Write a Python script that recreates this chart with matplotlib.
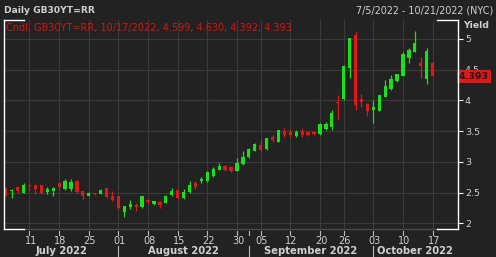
import matplotlib
matplotlib.use('Agg')
import matplotlib.pyplot as plt
import numpy as np
import pandas as pd
from matplotlib.lines import Line2D
from matplotlib.transforms import blended_transform_factory

# ---------------- data ----------------
opens = [2.57, 2.52, 2.585, 2.50, 2.62, 2.62, 2.62, 2.51, 2.52, 2.65,
         2.56, 2.55, 2.69, 2.52, 2.45, 2.49, 2.48, 2.58, 2.44, 2.44,
         2.19, 2.26, 2.30, 2.26, 2.38, 2.31, 2.35, 2.335, 2.455, 2.54,
         2.41, 2.51, 2.66, 2.68, 2.68, 2.77, 2.87, 2.93, 2.92, 2.855,
         2.96, 3.07, 3.175, 3.27, 3.20, 3.41, 3.33, 3.50, 3.49, 3.42,
         3.50, 3.48, 3.49, 3.45, 3.53, 3.57, 3.97, 4.02, 4.53, 5.06,
         4.02, 3.94, 3.84, 3.83, 4.06, 4.18, 4.31, 4.40, 4.69, 4.79,
         4.61, 4.35, 4.599]
highs = [2.58, 2.55, 2.60, 2.66, 2.62, 2.63, 2.63, 2.595, 2.59, 2.66,
         2.725, 2.725, 2.70, 2.53, 2.51, 2.50, 2.55, 2.59, 2.53, 2.45,
         2.28, 2.38, 2.33, 2.45, 2.40, 2.37, 2.36, 2.46, 2.57, 2.55,
         2.55, 2.69, 2.69, 2.76, 2.85, 2.92, 2.985, 2.95, 2.935, 3.06,
         3.18, 3.22, 3.30, 3.35, 3.39, 3.43, 3.52, 3.545, 3.53, 3.52,
         3.545, 3.50, 3.50, 3.636, 3.65, 3.84, 4.08, 4.57, 5.02, 5.105,
         4.10, 3.96, 4.005, 4.09, 4.33, 4.41, 4.43, 4.78, 4.855, 5.13,
         4.71, 4.845, 4.630]
lows = [2.44, 2.41, 2.50, 2.49, 2.53, 2.47, 2.48, 2.48, 2.44, 2.55,
        2.54, 2.53, 2.49, 2.40, 2.44, 2.46, 2.47, 2.41, 2.37, 2.24,
        2.11, 2.24, 2.195, 2.25, 2.32, 2.30, 2.25, 2.33, 2.45, 2.40,
        2.40, 2.49, 2.56, 2.65, 2.67, 2.76, 2.86, 2.845, 2.84, 2.85,
        2.955, 3.06, 3.17, 3.18, 3.19, 3.33, 3.32, 3.41, 3.41, 3.40,
        3.41, 3.42, 3.44, 3.44, 3.52, 3.52, 3.70, 4.01, 4.37, 3.85,
        3.89, 3.75, 3.635, 3.82, 4.05, 4.17, 4.30, 4.39, 4.60, 4.78,
        4.37, 4.26, 4.392]
closes = [2.45, 2.54, 2.52, 2.63, 2.60, 2.55, 2.49, 2.56, 2.58, 2.595,
          2.69, 2.67, 2.51, 2.45, 2.50, 2.47, 2.54, 2.42, 2.38, 2.25,
          2.275, 2.32, 2.27, 2.44, 2.34, 2.36, 2.30, 2.45, 2.53, 2.41,
          2.51, 2.62, 2.595, 2.725, 2.84, 2.88, 2.93, 2.87, 2.855, 2.985,
          3.08, 3.21, 3.29, 3.19, 3.38, 3.35, 3.51, 3.436, 3.436, 3.49,
          3.436, 3.436, 3.45, 3.61, 3.62, 3.80, 3.96, 4.56, 5.01, 3.92,
          3.97, 3.83, 3.89, 4.08, 4.23, 4.34, 4.42, 4.75, 4.82, 4.93,
          4.55, 4.80, 4.393]

start_date = '2022-07-05'
end_date = '2022-10-21'
holidays = ['2022-08-29', '2022-09-19']
month_labels = ['July 2022', 'August 2022', 'September 2022', 'October 2022']
y_ticks = [2, 2.5, 3, 3.5, 4, 4.5, 5]
y_tick_labels = ['2', '2.5', '3', '3.5', '4', '4.5', '5']
title = 'Daily GB30YT=RR'
date_range_text = '7/5/2022 - 10/21/2022 (NYC)'
legend_text = 'Cndl, GB30YT=RR, 10/17/2022, 4.599, 4.630, 4.392, 4.393'
last_close = 4.393

# ---------------- style ----------------
W, H = 496, 257
BG = '#222222'
GRID = '#3a3a3a'
GREEN = '#19e019'
RED = '#e01818'
TXT = '#cfcfcf'
plt.rcParams['font.family'] = ['DejaVu Sans']

days = pd.bdate_range(start_date, end_date)
days = days[~days.isin(pd.to_datetime(holidays))]
n = len(opens)
x = np.arange(n)

fig = plt.figure(figsize=(W / 100, H / 100), dpi=100, facecolor=BG)
L, R, T, B = 4, 457.5, 20, 229
ax = fig.add_axes([L / W, 1 - B / H, (R - L) / W, (B - T) / H])
ax.set_facecolor(BG)
ax.set_xlim(-0.3, 76.2)
ax.set_ylim(1.907, 5.306)
for s in ax.spines.values():
    s.set_visible(False)

# week starts and month starts
weeks = days.isocalendar().week.values
week_pos = [i for i in range(1, len(days)) if weeks[i] != weeks[i - 1]]
month_pos = [i for i in range(1, len(days)) if days[i].month != days[i - 1].month]

ax.set_xticks(week_pos)
ax.set_yticks(y_ticks)
ax.grid(True, color=GRID, lw=0.8)
ax.set_axisbelow(True)
ax.tick_params(axis='x', length=0, labelbottom=False)
ax.yaxis.tick_right()
ax.tick_params(axis='y', length=3.3, width=0.8, color='white', pad=2,
               labelcolor=TXT, labelsize=6.8)
ax.set_yticklabels(y_tick_labels)

# candles
cols = [GREEN if c >= o else RED for o, c in zip(opens, closes)]
ax.vlines(x, lows, highs, colors=cols, lw=0.9, zorder=3)
bottoms = np.minimum(opens, closes)
heights = np.maximum(np.abs(np.array(closes) - np.array(opens)), 0.015)
ax.bar(x, heights, bottom=bottoms, width=0.55, color=cols, lw=0, zorder=4)

# price label
trans_ad = blended_transform_factory(ax.transAxes, ax.transData)
ax.text(1.003, last_close, f'{last_close:.3f}', transform=trans_ad,
        ha='left', va='center', fontsize=6.8, fontweight='bold', color='#1a1a1a',
        bbox=dict(boxstyle='square,pad=0.22', facecolor=RED, edgecolor='none'),
        zorder=10, clip_on=False)

# frame lines (figure pixel coords)
def fline(x0, y0, x1, y1, color, lw=1.0):
    fig.add_artist(Line2D([x0 / W, x1 / W], [1 - y0 / H, 1 - y1 / H],
                          transform=fig.transFigure, color=color, lw=lw))

fline(24, B, 437, B, '#4a4a4a', 1.0)
fline(L, T, 24, T, 'white', 1.0)
fline(L, T, L, B, 'white', 1.0)
fline(L, B, 24, B, 'white', 1.0)
fline(437, T, R, T, 'white', 1.0)
fline(R, T, R, B, 'white', 1.0)
fline(437, B, R, B, 'white', 1.0)

# x tick marks, day labels, month labels
tr = blended_transform_factory(ax.transData, fig.transFigure)
tick_pos = sorted(set(week_pos) | set(month_pos))
for p in tick_pos:
    fig.add_artist(Line2D([p, p], [1 - 231 / H, 1 - 235 / H], transform=tr,
                          color='#bbbbbb', lw=0.8))
for p in week_pos:
    fig.text(p + 0.2, 1 - 240.5 / H, days[p].strftime('%d'), transform=tr,
             ha='center', va='center', fontsize=7, color=TXT)
bounds = [-0.3] + month_pos + [76.2]
for k, lab in enumerate(month_labels):
    mid = (bounds[k] + bounds[k + 1]) / 2
    fig.text(mid, 1 - 251 / H, lab, transform=tr, ha='center', va='center',
             fontsize=7.2, fontweight='bold', color=TXT)
for p in month_pos:
    fig.add_artist(Line2D([p, p], [1 - 246 / H, 1 - 257 / H], transform=tr,
                          color='#bbbbbb', lw=0.8))

# header texts
fig.text(4 / W, 1 - 10.5 / H, title, ha='left', va='center', fontsize=6.6,
         fontweight='bold', color=TXT)
fig.text(493 / W, 1 - 10.5 / H, date_range_text, ha='right', va='center',
         fontsize=6.9, color=TXT)
fig.text(6 / W, 1 - 27.5 / H, legend_text, ha='left', va='center', fontsize=7,
         color='#d41414')
fig.text(463 / W, 1 - 25.5 / H, 'Yield', ha='left', va='center', fontsize=6.7,
         fontweight='bold', color=TXT)

fig.savefig('out.png', dpi=100, facecolor=BG)
